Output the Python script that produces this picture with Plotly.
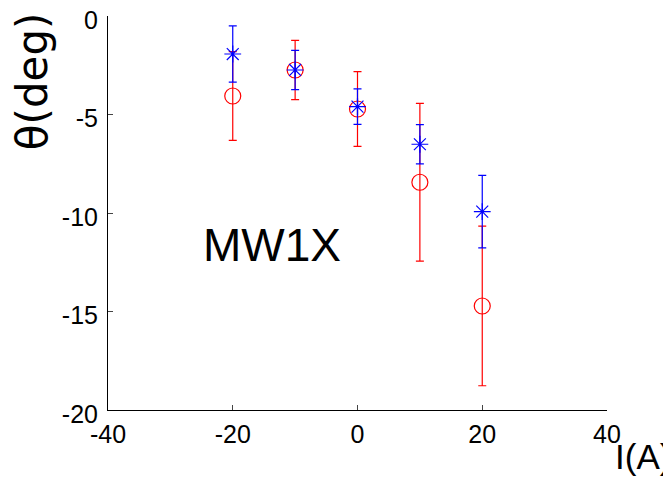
import plotly.graph_objects as go

current = [-20, -10, 0, 10, 20]
theta_red = [-4.06, -2.74, -4.72, -8.44, -14.72]
err_red = [2.25, 1.5, 1.9, 4.0, 4.05]
theta_blue = [-1.93, -2.74, -4.6, -6.51, -9.93]
err_blue = [1.43, 1.0, 0.9, 1.0, 1.84]
xticks = [-40, -20, 0, 20, 40]
xticklabels = ["-40", "-20", "0", "20", "40"]
yticks = [0, -5, -10, -15, -20]
yticklabels = ["0", "-5", "-10", "-15", "-20"]

fig = go.Figure()
fig.add_trace(go.Scatter(
    x=current, y=theta_red, mode="markers",
    marker=dict(symbol="circle-open", size=16, color="red", line=dict(width=1.2, color="red")),
    error_y=dict(type="data", array=err_red, visible=True, color="red", thickness=1.2, width=4),
    showlegend=False))
fig.add_trace(go.Scatter(
    x=current, y=theta_blue, mode="markers",
    marker=dict(symbol="asterisk-open", size=14, color="blue", line=dict(width=1.2, color="blue")),
    error_y=dict(type="data", array=err_blue, visible=True, color="blue", thickness=1.2, width=4),
    showlegend=False))

font = "Liberation Sans, Arial, sans-serif"
# page body adds an 8px offset, so the figure is 8px smaller and left/top margins shifted
fig.update_layout(
    width=663, height=474,
    margin=dict(l=100, r=64, t=8, b=72, autoexpand=False),
    paper_bgcolor="white", plot_bgcolor="white",
    font=dict(family=font, size=25, color="black"),
    xaxis=dict(range=[-40, 40], tickvals=xticks, ticktext=xticklabels, ticks="inside", ticklen=5,
               showline=True, linecolor="black", linewidth=1, showgrid=False, automargin=False,
               zeroline=False, tickfont=dict(size=25), ticklabelstandoff=2,
               ticklabeloverflow="allow"),
    yaxis=dict(range=[-20, 0], tickvals=yticks, ticktext=yticklabels, ticks="inside", ticklen=5,
               showline=True, linecolor="black", linewidth=1, showgrid=False, automargin=False,
               zeroline=False, tickfont=dict(size=25), ticklabelstandoff=4,
               ticklabelshift=4, ticklabeloverflow="allow"),
    annotations=[
        dict(text="θ(deg)", xref="paper", yref="paper", x=-0.152, y=0.835,
             xanchor="center", yanchor="middle", textangle=-90, showarrow=False,
             font=dict(size=42, family="DejaVu Sans")),
        dict(text="I(A)", xref="paper", yref="paper", x=1.012, y=-0.063,
             xanchor="left", yanchor="top", showarrow=False,
             font=dict(size=35, family=font)),
        dict(text="MW1X", xref="x", yref="y", x=-13.7, y=-11.6,
             xanchor="center", yanchor="middle", showarrow=False,
             font=dict(size=46, family=font)),
    ],
)
fig.write_html("out.html")
